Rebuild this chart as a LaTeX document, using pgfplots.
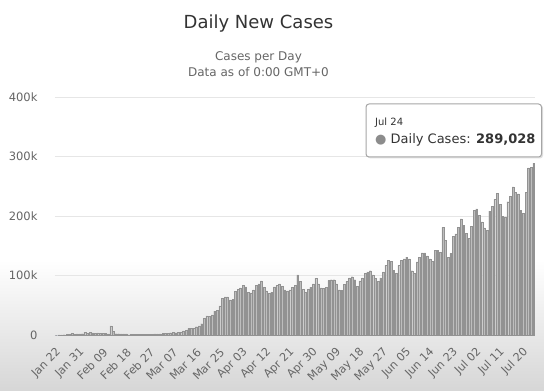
\documentclass[border=0pt]{standalone}
\usepackage{fontspec}
\setmainfont{DejaVu Sans}
\usepackage{pgfplots}
\pgfplotsset{compat=1.18}
\usepackage{pgfplotstable}
\definecolor{txtdark}{HTML}{333333}
\definecolor{txtgray}{HTML}{666666}
\definecolor{gridc}{HTML}{E6E6E6}
\definecolor{axisc}{HTML}{C8CCD6}
\definecolor{barfill}{HTML}{BDBDBD}
\definecolor{baredge}{HTML}{929292}

\pgfplotstableread{
day cases
0 0
1 100
2 290
3 490
4 680
5 810
6 2650
7 590
8 2070
9 1690
10 2110
11 4750
12 3100
13 4010
14 3740
15 3160
16 3600
17 2730
18 3030
19 2610
20 2040
21 15140
22 6520
23 2140
24 2200
25 1900
26 1800
27 1900
28 550
29 620
30 1000
31 1050
32 600
33 700
34 900
35 950
36 1200
37 1400
38 1800
39 2000
40 1900
41 2400
42 2300
43 2800
44 3900
45 4000
46 3900
47 4000
48 4600
49 7000
50 7500
51 10800
52 11000
53 11400
54 14000
55 15500
56 19000
57 28000
58 32000
59 31000
60 34000
61 40000
62 42000
63 49000
64 62000
65 64000
66 64000
67 59000
68 60000
69 73000
70 77000
71 79000
72 83000
73 81000
74 72000
75 71000
76 76000
77 83000
78 86000
79 91000
80 80000
81 74000
82 70000
83 72000
84 81000
85 83000
86 86000
87 82000
88 76000
89 74000
90 76000
91 80000
92 84000
93 101000
94 90000
95 77000
96 72000
97 77000
98 80000
99 86000
100 95000
101 86000
102 79000
103 78000
104 80000
105 92000
106 93000
107 93000
108 86000
109 76000
110 75000
111 85000
112 90000
113 96000
114 98000
115 93000
116 82000
117 91000
118 96000
119 104000
120 106000
121 108000
122 101000
123 95000
124 90000
125 96000
126 106000
127 117000
128 126000
129 124000
130 109000
131 104000
132 117000
133 125000
134 128000
135 131000
136 128000
137 108000
138 104000
139 123000
140 131000
141 138000
142 138000
143 133000
144 128000
145 124000
146 142000
147 142000
148 139000
149 181000
150 159000
151 131000
152 137000
153 166000
154 170000
155 181000
156 195000
157 184000
158 171000
159 162000
160 183000
161 209000
162 212000
163 201000
164 190000
165 180000
166 176000
167 208000
168 216000
169 228000
170 238000
171 220000
172 199000
173 198000
174 224000
175 233000
176 249000
177 240000
178 237000
179 210000
180 205000
181 240000
182 281000
183 282000
184 289028
}\cases

\begin{document}
\begin{tikzpicture}
\path[use as bounding box] (-55bp,-56bp) rectangle (489bp,335bp);
\fill[white] (-55bp,-56bp) rectangle (489bp,335bp);
\shade[top color=white, bottom color=black!16] (-55bp,-56bp) rectangle (489bp,75bp);
\begin{axis}[
  at={(0,0)}, anchor=south west,
  scale only axis, width=480bp, height=238bp,
  xmin=-0.5, xmax=184.5, ymin=0, ymax=400000,
  axis x line*=bottom, axis y line*=left,
  x axis line style={-, draw=axisc, line width=0.8bp},
  y axis line style={draw=none},
  ymajorgrids, major grid style={draw=gridc, line width=0.8bp},
  major tick length=0pt,
  scaled y ticks=false,
  /pgf/number format/assume math mode=true,
  ytick={0,100000,200000,300000,400000},
  yticklabels={0,100k,200k,300k,400k},
  xtick={0,9,...,180},
  xticklabels={Jan 22,Jan 31,Feb 09,Feb 18,Feb 27,Mar 07,Mar 16,Mar 25,Apr 03,Apr 12,Apr 21,Apr 30,May 09,May 18,May 27,Jun 05,Jun 14,Jun 23,Jul 02,Jul 11,Jul 20},
  yticklabel style={font=\fontsize{11.5bp}{13bp}\selectfont, text=txtgray, anchor=east, xshift=-14bp},
  xticklabel style={font=\fontsize{11.2bp}{13bp}\selectfont, text=txtgray, xshift=5bp, yshift=-13bp, rotate=45, anchor=east},
]
\addplot[ybar, bar width=0.7, fill=barfill, draw=baredge, line width=0.3bp] table[x=day, y=cases] {\cases};
\end{axis}
% titles
\node[text=txtdark, font=\fontsize{18bp}{20bp}\selectfont, anchor=base] at (203.5bp,306bp) {Daily New Cases};
\node[text=txtgray, font=\fontsize{12bp}{14bp}\selectfont, anchor=base] at (203.5bp,274bp) {Cases per Day};
\node[text=txtgray, font=\fontsize{12bp}{14bp}\selectfont, anchor=base] at (203.5bp,258bp) {Data as of 0:00 GMT+0};
% tooltip
\fill[black!12, rounded corners=3bp] (312.5bp,176.5bp) rectangle (488bp,230bp);
\filldraw[fill=white, draw=black!35, line width=1bp, rounded corners=3bp] (311bp,178bp) rectangle (486.5bp,231bp);
\node[text=txtdark, font=\fontsize{10bp}{12bp}\selectfont, anchor=base west, inner sep=0pt] at (320bp,209bp) {Jul 24};
\node[text=txtdark, font=\fontsize{13bp}{15bp}\selectfont, anchor=base west, inner sep=0pt] at (320bp,191bp) {{\color{black!45}●} Daily Cases: \textbf{289,028}};
\end{tikzpicture}
\end{document}
